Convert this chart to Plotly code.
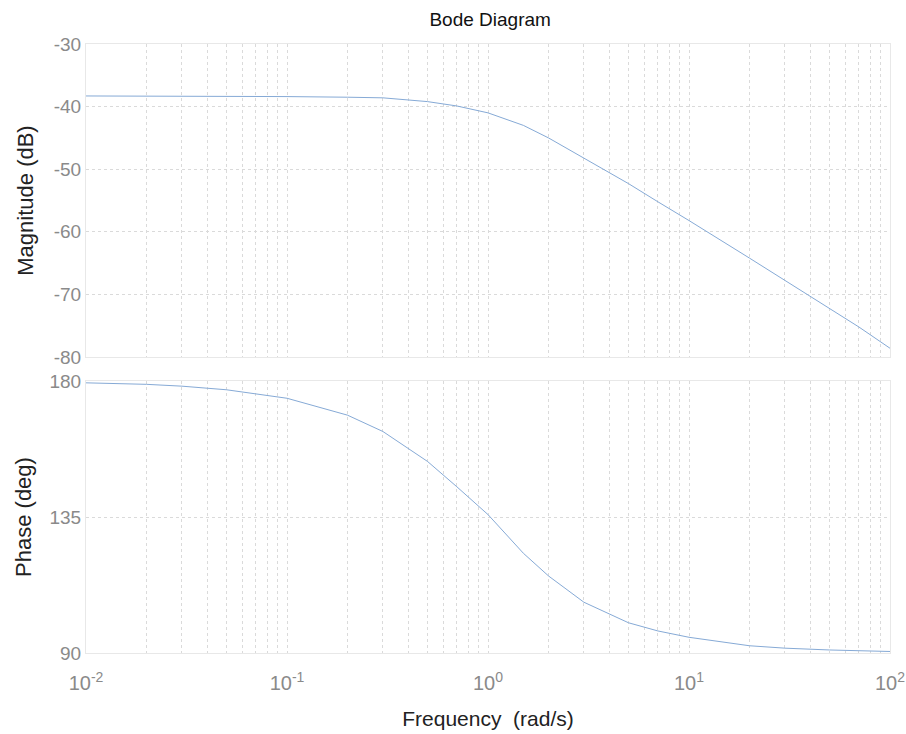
import plotly.graph_objects as go
from plotly.subplots import make_subplots

# Frequencies (rad/s)
freq = [0.01, 0.02, 0.03, 0.05, 0.1, 0.2, 0.3, 0.5, 0.7, 1, 1.5, 2, 3, 5, 7, 10, 20, 30, 50, 70, 100]
# Magnitude (dB)
magnitude_db = [-38.3, -38.3, -38.3, -38.3, -38.4, -38.5, -38.6, -39.2, -39.9, -41.0, -43.0, -45.0,
                -48.2, -52.3, -55.2, -58.2, -64.2, -67.8, -72.2, -75.2, -78.6]
# Phase (deg)
phase_deg = [179.4, 178.9, 178.3, 177.1, 174.3, 168.7, 163.3, 153.4, 145.0, 135.8, 123.0, 115.5,
             106.8, 100.0, 97.3, 95.2, 92.4, 91.6, 91.0, 90.7, 90.5]

mag_ticks = [-30, -40, -50, -60, -70, -80]
mag_ticktext = ["-30", "-40", "-50", "-60", "-70", "-80"]
phase_ticks = [90, 135, 180]
x_ticks = [0.01, 0.1, 1, 10, 100]
x_ticktext = ["10<sup>-2</sup>", "10<sup>-1</sup>", "10<sup>0</sup>", "10<sup>1</sup>", "10<sup>2</sup>"]
# minor log grid: 2..9 within each decade
x_minor_ticks = [m * d for d in x_ticks[:-1] for m in range(2, 10)]

line_color = "#86aad6"
grid_color = "#dadada"
tick_color = "#8a8a8a"
font_family = "Liberation Sans, Arial, sans-serif"

fig = make_subplots(rows=2, cols=1, shared_xaxes=True, vertical_spacing=0.04)

fig.add_trace(go.Scatter(x=freq, y=magnitude_db, mode="lines",
                         line=dict(color=line_color, width=1), showlegend=False), row=1, col=1)
fig.add_trace(go.Scatter(x=freq, y=phase_deg, mode="lines",
                         line=dict(color=line_color, width=1), showlegend=False), row=2, col=1)

common_x = dict(type="log", range=[-2, 2], showgrid=True, gridcolor=grid_color, griddash="dot",
                gridwidth=1, zeroline=False, showline=True, linecolor="#e8e8e8", mirror=True,
                tickmode="array", tickvals=x_ticks, ticktext=x_ticktext,
                minor=dict(tickmode="array", tickvals=x_minor_ticks, showgrid=True, gridcolor=grid_color,
                           griddash="dot", gridwidth=1, ticks=""),
                tickfont=dict(size=20, color=tick_color, family=font_family), ticks="",
                automargin=False)

fig.update_xaxes(**common_x)
fig.update_xaxes(showticklabels=False, row=1, col=1)
fig.update_xaxes(ticklabelstandoff=12,
                 title=dict(text="Frequency  (rad/s)", font=dict(size=21, color="#222", family=font_family),
                            standoff=18), row=2, col=1)

fig.update_yaxes(range=[-80, -30], tickvals=mag_ticks, ticktext=mag_ticktext,
                 showgrid=True, gridcolor=grid_color, griddash="dot", zeroline=False,
                 showline=True, linecolor="#e8e8e8", mirror=True, ticks="", automargin=False,
                 tickfont=dict(size=19, color=tick_color, family=font_family),
                 title=dict(text="Magnitude (dB)", font=dict(size=22, color="#222", family=font_family),
                            standoff=14),
                 domain=[0.486, 1.0], row=1, col=1)
fig.update_yaxes(range=[90, 180], tickvals=phase_ticks,
                 showgrid=True, gridcolor=grid_color, griddash="dot", zeroline=False,
                 showline=True, linecolor="#e8e8e8", mirror=True, ticks="", automargin=False,
                 tickfont=dict(size=19, color=tick_color, family=font_family),
                 title=dict(text="Phase (deg)", font=dict(size=22, color="#222", family=font_family),
                            standoff=11),
                 domain=[0.0, 0.4466], row=2, col=1)

fig.update_layout(
    width=906, height=734,
    margin=dict(l=86, r=16, t=44, b=81),
    paper_bgcolor="white", plot_bgcolor="white",
    title=dict(text="Bode Diagram", x=0.541, xanchor="center", y=0.973, yanchor="middle",
               font=dict(size=19, color="#111", family=font_family)),
    font=dict(family=font_family),
)

fig.write_html("out.html", config={"displayModeBar": False},
               post_script="document.body.style.margin='0';")
